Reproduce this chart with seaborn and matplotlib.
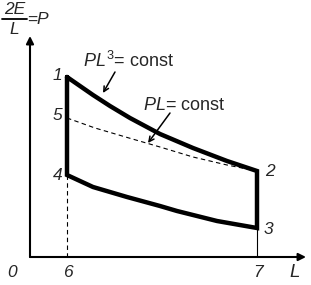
import matplotlib
matplotlib.use("Agg")
import matplotlib.pyplot as plt
import seaborn as sns
import pandas as pd

# ---- data (schematic coordinates: L to the right, P upward) ----
L6, L7 = 37, 227                      # schematic positions of the "6" and "7" states
# adiabat 1 -> 2 (PL^3 = const)
upper_L = [37, 63, 80, 100, 130, 163, 197, 227]
upper_P = [180, 162, 151, 139, 123, 109, 96, 86]
# adiabat 4 -> 3
lower_L = [37, 63, 97, 130, 147, 187, 227]
lower_P = [82, 70, 60, 51, 46, 36, 29]
# isotherm 5 -> 2 (PL = const)
dash_L = [37, 65, 99, 130, 163, 197, 227]
dash_P = [139, 129, 119, 110, 100, 92, 86]

state_names = ["1", "2", "3", "4", "5"]
state_L = [37, 227, 227, 37, 37]
state_P = [180, 86, 29, 82, 139]
tick_labels = ["0", "6", "7"]
tick_pos = [0, L6, L7]

# ---- style ----
sns.set_theme(style="white")
plt.rcParams["font.family"] = ["Liberation Sans", "DejaVu Sans"]
plt.rcParams["mathtext.fontset"] = "custom"
plt.rcParams["mathtext.rm"] = "Liberation Sans"
plt.rcParams["mathtext.it"] = "Liberation Sans:italic"

fig = plt.figure(figsize=(3.11, 2.85), dpi=100)
ax = fig.add_axes([0, 0, 1, 1])
ax.set_xlim(-30, 281)
ax.set_ylim(-28, 257)
ax.axis("off")

# closed cycle 1 -> 2 -> 3 -> 4 -> 1
cyc_L = upper_L + lower_L[::-1] + [upper_L[0]]
cyc_P = upper_P + lower_P[::-1] + [upper_P[0]]
cycle = pd.DataFrame({"L": cyc_L, "P": cyc_P})
sns.lineplot(data=cycle, x="L", y="P", sort=False, estimator=None,
             color="black", lw=3.2, ax=ax)
ax.lines[-1].set_solid_joinstyle("miter")

dash = pd.DataFrame({"L": dash_L, "P": dash_P})
sns.lineplot(data=dash, x="L", y="P", sort=False, estimator=None,
             color="black", lw=0.8, ax=ax, linestyle=(0, (4, 3)))

# drop lines to the L axis
ax.plot([L6, L6], [state_P[3], 0], color="black", lw=0.8, linestyle=(0, (4, 3)))
ax.plot([L7, L7], [state_P[2], 0], color="black", lw=0.8)

# axes with arrows
arw = dict(arrowstyle="-|>", lw=1.5, color="black", mutation_scale=11,
           shrinkA=0, shrinkB=0)
ax.annotate("", xy=(0, 221), xytext=(0, 0), arrowprops=arw)
ax.annotate("", xy=(276, 0), xytext=(0, 0), arrowprops=arw)

fs = 12.5
# state labels
offsets = {"1": (-10, 1), "2": (12.5, 0), "3": (11, -1), "4": (-9.5, -1), "5": (-9.5, 2)}
for n, l, p in zip(state_names, state_L, state_P):
    dx, dy = offsets[n]
    ax.text(l + dx, p + dy, n, fontsize=fs, style="italic", ha="center", va="center")

# tick labels on L axis
for t, x in zip(tick_labels, tick_pos):
    ax.text(x + (-18 if t == "0" else 1), -15.5, t, fontsize=fs, style="italic",
            ha="center", va="center")
ax.text(264.5, -15.5, "L", fontsize=fs + 1, style="italic", ha="center", va="center")

# P axis label: 2E / L = P
ax.text(-15, 247.5, "2E", fontsize=fs, style="italic", ha="center", va="center")
ax.plot([-28, -3], [238, 238], color="black", lw=1.3)
ax.text(-16, 227, "L", fontsize=fs, style="italic", ha="center", va="center")
ax.text(2, 237, "=", fontsize=fs, ha="center", va="center")
ax.text(12.5, 237, "P", fontsize=fs, style="italic", ha="center", va="center")

# annotations
ann = dict(arrowstyle="->", lw=1.1, color="black", mutation_scale=9,
           shrinkA=0, shrinkB=0)
ax.text(98.5, 196, r"$PL^3$= const", fontsize=13, ha="center", va="center")
ax.annotate("", xy=(73, 164), xytext=(85, 185), arrowprops=ann)
ax.text(154, 152, r"$PL$= const", fontsize=13, ha="center", va="center")
ax.annotate("", xy=(118, 114), xytext=(140, 144), arrowprops=ann)

fig.savefig("out.png", dpi=100)
